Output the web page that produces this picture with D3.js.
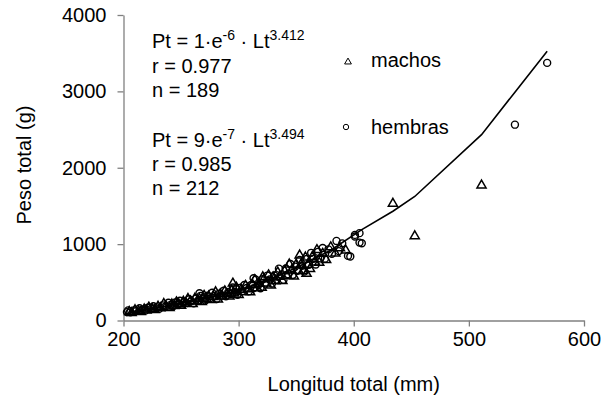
<!DOCTYPE html>
<html>
<head>
<meta charset="utf-8">
<script src="https://cdn.jsdelivr.net/npm/d3@7"></script>
<style>
  body { margin: 0; background: #fff; }
  text { font-family: "Liberation Sans", Arial, sans-serif; }
</style>
</head>
<body>
<svg width="610" height="404"></svg>
<script>
var svg = d3.select("svg"),
    width = +svg.attr("width"),
    height = +svg.attr("height");

// machos (triangles), [longitud mm, peso g]
var machos = [
  [205,120],[207,105],[210,143],[213,129],[215,119],[218,153],[220,138],[222,178],[225,159],[227,147],
  [230,189],[232,169],[235,225],[237,192],[240,172],[242,218],[244,197],[246,246],[248,222],[250,200],
  [252,255],[254,230],[256,290],[258,259],[260,224],[262,293],[264,256],[266,289],[268,250],[270,331],
  [272,290],[274,323],[276,277],[278,317],[280,378],[282,284],[284,351],[286,321],[288,390],[290,351],
  [292,322],[294,399],[295,492],[296,361],[298,440],[300,343],[302,412],[304,381],[306,462],[308,417],
  [310,378],[312,477],[314,538],[316,432],[318,490],[320,436],[321,575],[322,547],[324,493],[326,600],
  [328,468],[330,572],[332,523],[334,637],[336,580],[338,526],[340,653],[342,594],[344,742],[346,662],
  [348,583],[350,740],[352,658],[353,860],[354,736],[356,657],[358,834],[359,619],[360,737],[362,683],
  [364,840],[366,768],[368,931],[370,764],[373,881],[376,799],[380,966],[384,885],[388,954],[393,925],
  [434,1537],[453,1112],[511,1777]
];

// hembras (circles)
var hembras = [
  [203,110],[204,132],[206,107],[209,133],[211,123],[214,160],[216,139],[219,129],[221,166],[224,152],
  [226,186],[229,172],[231,152],[234,198],[236,179],[239,232],[241,205],[243,186],[245,237],[247,212],
  [249,259],[251,205],[253,246],[255,228],[257,279],[259,254],[261,226],[263,288],[265,261],[266,357],
  [267,323],[269,287],[271,261],[273,326],[275,287],[277,364],[279,323],[281,281],[283,350],[285,324],
  [287,389],[289,316],[291,369],[293,347],[295,432],[297,375],[299,336],[301,427],[303,381],[305,465],
  [307,425],[309,383],[311,467],[313,553],[313,423],[315,535],[317,461],[319,422],[321,541],[323,483],
  [325,588],[327,537],[329,484],[331,589],[333,534],[335,679],[337,592],[339,532],[341,680],[343,607],
  [345,739],[347,596],[349,705],[351,650],[353,793],[355,715],[357,642],[359,805],[361,730],[363,886],
  [365,808],[367,734],[369,899],[371,814],[373,950],[375,810],[378,931],[381,872],[385,1042],[387,908],
  [390,1010],[395,846],[397,837],[401,1099],[401,1121],[405,1144],[405,1020],[407,1012],[540,2564],[568,3373]
];

// ajuste (linea de tendencia)
var ajuste = [
  [205,110],[230,165],[260,255],[290,350],[320,490],[350,690],[380,920],[407,1190],
  [434,1430],[453,1624],[511,2433],[540,2990],[568,3525]
];

var xTicks = [200, 300, 400, 500, 600];
var yTicks = [0, 1000, 2000, 3000, 4000];

var x = d3.scaleLinear().domain([200, 600]).range([123.5, 584]);
var y = d3.scaleLinear().domain([0, 4000]).range([320.5, 15]);

var xAxis = svg.append("g")
    .attr("transform", "translate(0," + y(0) + ")")
    .call(d3.axisBottom(x).tickValues(xTicks).tickFormat(d3.format("d"))
      .tickSize(6).tickSizeOuter(0).tickPadding(5));

var yAxis = svg.append("g")
    .attr("transform", "translate(" + x(200) + ",0)")
    .call(d3.axisLeft(y).tickValues(yTicks).tickFormat(d3.format("d"))
      .tickSize(6).tickSizeOuter(0).tickPadding(11));

[xAxis, yAxis].forEach(function(g) {
  g.selectAll("path, line").attr("stroke", "#808080").attr("stroke-width", 1.3);
  g.selectAll("text").attr("fill", "#000").style("font-size", "20px")
      .style("font-family", "'Liberation Sans', Arial, sans-serif");
});

svg.append("text")
    .attr("x", (x(200) + x(600)) / 2)
    .attr("y", 391)
    .attr("text-anchor", "middle")
    .style("font-size", "20px")
    .text("Longitud total (mm)");

svg.append("text")
    .attr("transform", "translate(31,165) rotate(-90)")
    .attr("text-anchor", "middle")
    .style("font-size", "20px")
    .text("Peso total (g)");

var line = d3.line().x(d => x(d[0])).y(d => y(d[1]));

svg.append("path")
    .datum(ajuste)
    .attr("fill", "none")
    .attr("stroke", "#000")
    .attr("stroke-width", 1.6)
    .attr("d", line);

var tri = d3.symbol().type(d3.symbolTriangle).size(36);

svg.append("g")
    .selectAll("path")
    .data(machos)
    .join("path")
    .attr("d", tri)
    .attr("transform", d => "translate(" + x(d[0]) + "," + (y(d[1]) + 0.5) + ")")
    .attr("fill", "none")
    .attr("stroke", "#000")
    .attr("stroke-width", 1.5);

svg.append("g")
    .selectAll("circle")
    .data(hembras)
    .join("circle")
    .attr("cx", d => x(d[0]))
    .attr("cy", d => y(d[1]))
    .attr("r", 3.5)
    .attr("fill", "none")
    .attr("stroke", "#000")
    .attr("stroke-width", 1.4);

// anotaciones
function ecuacion(yy, coef, exp1, exp2) {
  var t = svg.append("text").attr("x", 152).attr("y", yy).style("font-size", "20px");
  t.append("tspan").text("Pt = " + coef + "\u00b7e");
  t.append("tspan").attr("dy", -8).style("font-size", "14px").text(exp1);
  t.append("tspan").attr("dy", 8).text(" \u00b7 Lt");
  t.append("tspan").attr("dy", -8).style("font-size", "14px").text(exp2);
}

ecuacion(48, "1", "-6", "3.412");
svg.append("text").attr("x", 152).attr("y", 73).style("font-size", "20px").text("r = 0.977");
svg.append("text").attr("x", 152).attr("y", 97).style("font-size", "20px").text("n = 189");

ecuacion(147, "9", "-7", "3.494");
svg.append("text").attr("x", 152).attr("y", 171).style("font-size", "20px").text("r = 0.985");
svg.append("text").attr("x", 152).attr("y", 195).style("font-size", "20px").text("n = 212");

// leyenda
svg.append("path")
    .attr("d", d3.symbol().type(d3.symbolTriangle).size(20))
    .attr("transform", "translate(348,62)")
    .attr("fill", "none").attr("stroke", "#000").attr("stroke-width", 1);
svg.append("text").attr("x", 371).attr("y", 67).style("font-size", "20px").text("machos");

svg.append("circle")
    .attr("cx", 346).attr("cy", 127).attr("r", 2.7)
    .attr("fill", "none").attr("stroke", "#000").attr("stroke-width", 1);
svg.append("text").attr("x", 371).attr("y", 134).style("font-size", "20px").text("hembras");
</script>
</body>
</html>
